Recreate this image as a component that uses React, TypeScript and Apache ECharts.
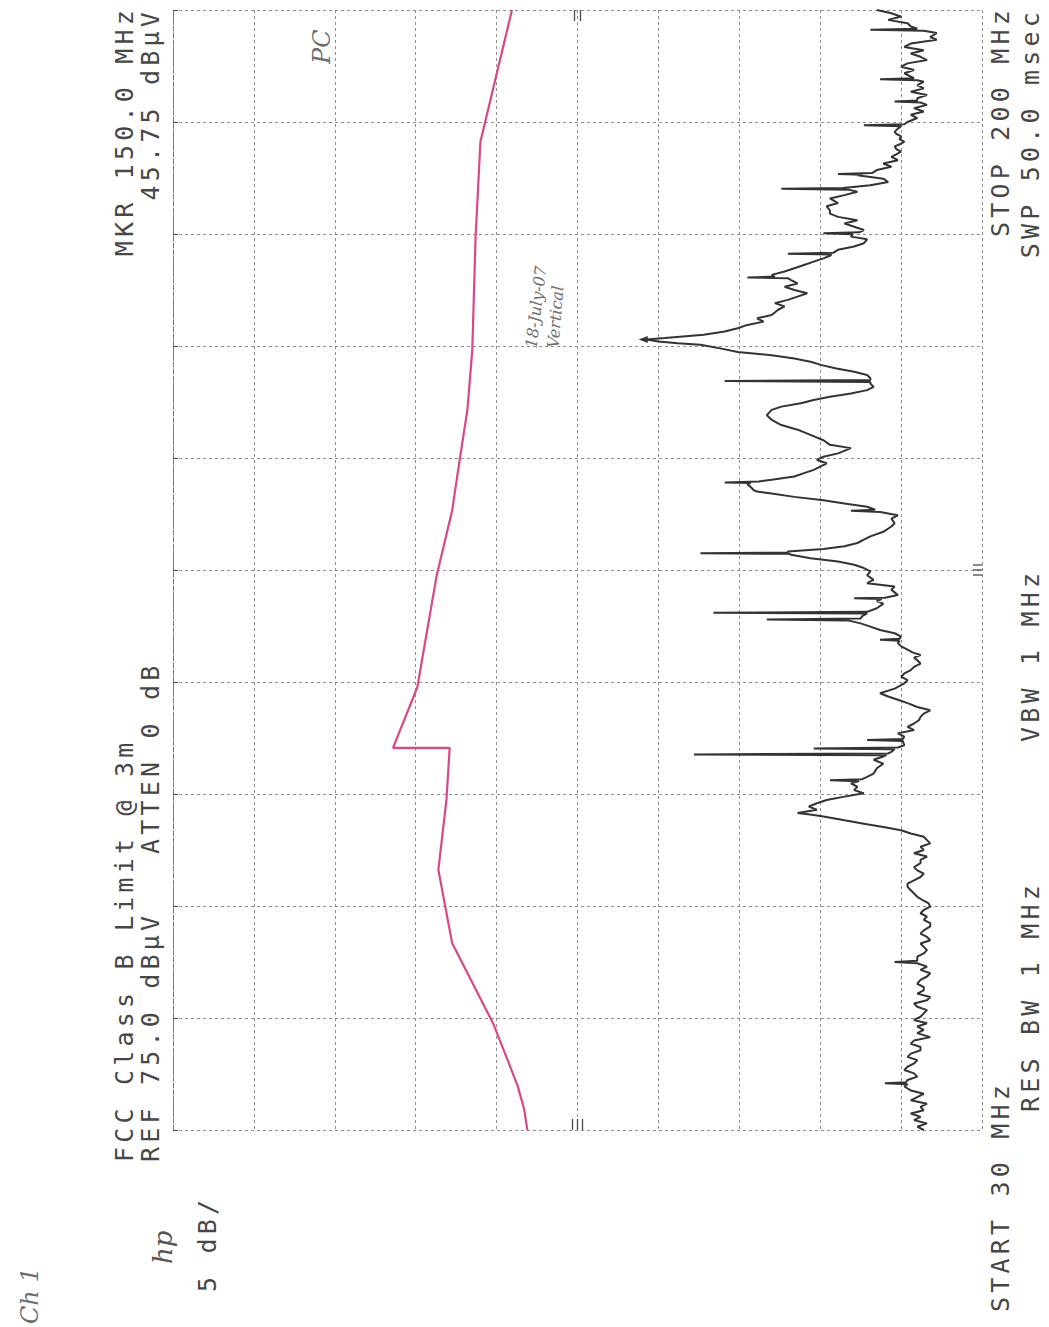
import React, { useEffect, useRef } from "react";
import * as echarts from "echarts";

// Sweep settings of the analyzer
const START_MHZ = 30;
const STOP_MHZ = 200;
const REF_DBUV = 75;
const DB_PER_DIV = 5;
const DIVISIONS = 10;

// FCC Class B limit (with antenna/cable correction) — frequency, level
const limitMHz = [30, 33.2, 36.7, 40.5, 43.6, 46.1, 58.4, 69.5, 80.1, 88, 88, 97.2, 114.2, 124, 131.4, 139.4, 148.5, 165.5, 180, 200];
const limitDbuv = [53.1, 53.3, 53.7, 54.3, 54.8, 55.2, 57.75, 58.6, 58.1, 57.9, 61.4, 59.9, 58.7, 57.75, 57.3, 56.8, 56.5, 56.3, 56.0, 54.05];

// Measured sweep: [MHz, dBµV]
const trace: [number, number][] = [
  [30.0, 28.6], [30.5, 29.0], [31.0, 28.4], [31.5, 29.2], [32.0, 28.8], [32.5, 29.4], [33.0, 28.6], [33.5, 28.8],
  [34.0, 28.4], [34.5, 29.4], [35.0, 29.0], [35.5, 28.6], [36.0, 29.4], [36.6, 29.8], [36.95, 29.6], [37.1, 31.0],
  [37.25, 29.7], [37.6, 29.6], [38.1, 29.0], [38.6, 29.2], [39.1, 29.8], [39.6, 29.6], [40.1, 29.2], [40.6, 29.0],
  [41.1, 29.6], [41.6, 29.4], [42.1, 28.8], [42.6, 28.8], [43.1, 29.4], [43.6, 29.2], [44.1, 28.2], [44.7, 29.0],
  [45.2, 28.6], [45.7, 29.0], [46.2, 28.4], [46.7, 29.2], [47.2, 28.8], [47.7, 28.6], [48.2, 28.4], [48.7, 29.0],
  [49.2, 29.2], [49.7, 28.4], [50.2, 28.2], [50.7, 29.0], [51.2, 28.6], [51.7, 28.6], [52.2, 29.0], [52.8, 28.8],
  [53.3, 28.4], [53.8, 28.2], [54.3, 28.8], [54.8, 28.4], [55.3, 29.0], [55.5, 30.4], [55.7, 29.0], [56.3, 29.0],
  [56.8, 28.6], [57.3, 28.4], [57.8, 28.6], [58.3, 28.8], [58.8, 28.2], [59.3, 28.4], [59.8, 28.8], [60.3, 28.6],
  [60.9, 28.2], [61.4, 28.2], [61.9, 28.6], [62.4, 28.4], [62.9, 28.8], [63.4, 28.6], [63.9, 28.2], [64.4, 28.3],
  [64.8, 28.6], [65.4, 29.0], [65.9, 29.2], [66.4, 29.4], [66.9, 29.6], [67.4, 29.6], [67.9, 29.2], [68.4, 28.8],
  [68.9, 28.6], [69.4, 29.0], [69.9, 29.2], [70.5, 28.8], [71.0, 28.8], [71.5, 28.4], [72.0, 29.2], [72.5, 28.6],
  [73.0, 28.8], [73.5, 28.2], [74.0, 28.4], [74.5, 28.6], [75.0, 29.4], [75.5, 30.0], [76.0, 31.1], [76.5, 32.3],
  [77.0, 33.5], [77.6, 34.8], [77.8, 35.4], [78.1, 36.4], [78.6, 35.2], [79.1, 35.7], [79.6, 35.2], [80.1, 34.6],
  [80.6, 33.5], [81.1, 32.3], [81.6, 32.9], [82.1, 32.7], [82.6, 33.1], [82.95, 32.6], [83.1, 34.4], [83.25, 32.4],
  [83.6, 32.1], [84.1, 31.7], [84.9, 31.5], [85.6, 31.1], [86.2, 31.7], [86.7, 31.1], [86.9, 30.9], [87.0, 42.8],
  [87.15, 30.8], [87.4, 30.6], [87.8, 30.4], [87.9, 35.4], [88.05, 30.2], [88.4, 29.8], [89.05, 29.9], [89.2, 32.1],
  [89.35, 29.9], [89.7, 29.8], [90.2, 30.2], [90.7, 29.2], [91.2, 29.6], [91.7, 29.2], [92.2, 28.9], [92.7, 28.8],
  [93.2, 28.6], [93.7, 28.2], [94.2, 29.0], [94.8, 29.6], [95.3, 30.2], [95.8, 30.8], [96.3, 31.3], [97.0, 30.4],
  [97.8, 29.8], [98.3, 29.6], [98.8, 30.0], [99.3, 29.8], [99.8, 29.4], [100.3, 29.2], [100.8, 28.8], [101.3, 29.0],
  [101.7, 29.2], [102.1, 28.8], [102.5, 29.3], [102.9, 29.6], [103.4, 30.0], [103.9, 30.2], [104.25, 30.1], [104.4, 31.3],
  [104.55, 30.1], [104.9, 30.0], [105.4, 30.4], [105.9, 31.3], [106.4, 31.9], [106.9, 32.5], [107.35, 33.3], [107.5, 38.3],
  [107.65, 32.5], [108.0, 32.4], [108.4, 32.1], [108.5, 41.6], [108.65, 32.1], [109.2, 31.5], [109.9, 31.1], [110.3, 31.5],
  [110.6, 31.2], [110.7, 32.9], [110.8, 31.0], [111.2, 30.2], [111.6, 30.4], [112.0, 30.6], [112.5, 30.4], [113.0, 32.1],
  [113.5, 31.7], [114.2, 32.1], [114.8, 31.9], [115.3, 32.3], [115.8, 32.9], [116.3, 33.9], [116.8, 35.6], [117.3, 36.8],
  [117.45, 36.9], [117.55, 42.4], [117.65, 37.0], [117.8, 37.0], [118.2, 34.8], [118.6, 33.5], [119.1, 32.7], [119.6, 32.3],
  [120.1, 31.9], [120.8, 31.1], [121.6, 30.6], [122.1, 30.4], [122.8, 30.6], [123.3, 30.2], [123.8, 31.3], [124.0, 33.1],
  [124.15, 31.6], [124.6, 32.1], [125.1, 33.5], [125.6, 34.8], [126.1, 36.6], [126.6, 38.0], [126.9, 38.9], [127.1, 39.1],
  [127.6, 39.3], [128.0, 39.5], [128.2, 39.3], [128.3, 40.9], [128.45, 38.8], [128.7, 38.0], [129.2, 36.6], [129.7, 36.0],
  [130.2, 35.4], [130.7, 35.0], [131.2, 34.6], [131.7, 35.2], [132.2, 34.8], [132.7, 33.9], [133.5, 33.1], [134.0, 34.4],
  [134.7, 34.8], [135.5, 35.6], [136.3, 36.4], [137.0, 37.4], [137.8, 38.0], [138.5, 38.3], [139.3, 38.0], [139.8, 37.4],
  [140.3, 36.2], [140.8, 35.4], [141.3, 34.4], [141.8, 33.1], [142.3, 32.1], [142.8, 31.7], [143.3, 31.9], [143.55, 31.9],
  [143.7, 40.9], [143.85, 31.9], [144.1, 31.9], [144.6, 32.1], [145.1, 32.9], [145.6, 34.0], [146.1, 34.9], [146.6, 35.6],
  [147.1, 36.6], [147.6, 38.0], [148.1, 40.1], [148.6, 41.1], [149.2, 42.4], [149.4, 43.8], [149.7, 45.0], [150.0, 45.75],
  [150.2, 44.6], [150.7, 42.2], [151.2, 40.9], [151.7, 40.1], [152.2, 39.5], [152.7, 38.5], [153.2, 38.9], [153.7, 38.0],
  [154.5, 37.6], [155.0, 37.2], [155.5, 37.8], [156.0, 37.0], [156.5, 36.4], [157.0, 35.8], [157.5, 36.6], [158.0, 37.2],
  [158.5, 36.4], [159.0, 36.8], [159.3, 37.0], [159.4, 39.5], [159.55, 37.8], [159.8, 38.0], [160.3, 37.2], [160.8, 36.6],
  [161.3, 36.0], [161.8, 35.4], [162.3, 34.8], [162.7, 34.4], [162.9, 34.3], [163.0, 37.0], [163.15, 34.2], [163.6, 33.9],
  [164.1, 32.9], [164.6, 32.3], [165.2, 32.1], [165.6, 33.1], [165.95, 33.0], [166.1, 34.8], [166.25, 32.6], [166.6, 32.3],
  [167.1, 32.9], [167.6, 33.5], [168.1, 32.7], [168.6, 33.9], [169.1, 34.4], [169.6, 34.4], [170.2, 34.6], [170.7, 33.9],
  [171.4, 34.4], [171.9, 33.5], [172.4, 32.7], [172.7, 33.2], [172.85, 37.4], [173.0, 33.6], [173.4, 31.9], [173.9, 30.8],
  [174.4, 31.1], [174.9, 32.7], [175.0, 32.4], [175.1, 33.9], [175.25, 31.8], [175.7, 31.5], [176.2, 30.6], [176.7, 31.1],
  [177.2, 30.2], [177.7, 30.6], [178.1, 30.3], [178.5, 30.0], [178.9, 30.3], [179.3, 30.4], [179.7, 30.0], [180.0, 29.8],
  [180.4, 30.1], [180.8, 30.0], [181.2, 30.3], [181.5, 30.4], [182.0, 30.2], [182.35, 30.0], [182.5, 32.3], [182.65, 29.8],
  [183.0, 29.6], [183.6, 29.0], [184.1, 29.4], [184.6, 28.6], [185.1, 29.2], [185.6, 28.4], [185.95, 28.8], [186.1, 30.4],
  [186.25, 29.0], [186.6, 29.0], [187.1, 28.4], [187.6, 29.4], [188.1, 28.6], [188.6, 29.0], [189.1, 28.6], [189.35, 29.0],
  [189.5, 31.3], [189.65, 29.2], [189.9, 29.4], [190.4, 29.8], [190.9, 29.2], [191.4, 30.0], [191.9, 29.6], [192.4, 28.4],
  [192.9, 28.8], [193.4, 29.4], [193.9, 28.6], [194.4, 29.8], [194.9, 29.4], [195.5, 27.8], [195.9, 28.2], [196.5, 27.8],
  [196.85, 28.6], [197.0, 31.9], [197.15, 29.0], [197.5, 29.4], [198.0, 29.6], [198.5, 30.8], [199.0, 30.0], [199.5, 30.6],
  [200.0, 31.5],
];

// Marker readout
const markerMHz = 150;
const markerDbuv = 45.75;

// Annotation lines printed around the graticule
const headerLine1 = "FCC Class B Limit @ 3m";
const headerLine2 = "REF 75.0 dBµV   ATTEN 0 dB";
const markerLine1 = "MKR 150.0 MHz";
const markerLine2 = "45.75 dBµV";
const scaleLabel = "5 dB/";
const startLabel = "START 30 MHz";
const rbwLabel = "RES BW 1 MHz";
const vbwLabel = "VBW 1 MHz";
const stopLabel = "STOP 200 MHz";
const sweepLabel = "SWP 50.0 msec";

const MONO = "'DejaVu Sans Mono', 'Liberation Mono', monospace";
const HAND = "'DejaVu Serif', 'Liberation Serif', serif";
const INK = "#474747";
const UP = Math.PI / 2;

function label(text: string, x: number, y: number, align: "left" | "right", size = 25) {
  return {
    type: "text",
    x,
    y,
    rotation: UP,
    silent: true,
    style: { text, fill: INK, fontFamily: MONO, fontSize: size, align, verticalAlign: "middle" },
  };
}

function hand(text: string, x: number, y: number, rot: number, size: number) {
  return {
    type: "text",
    x,
    y,
    rotation: rot,
    silent: true,
    style: { text, fill: "#6e6e6e", fontFamily: HAND, fontStyle: "italic", fontSize: size, align: "left", verticalAlign: "middle" },
  };
}

export default function App() {
  const ref = useRef<HTMLDivElement>(null);

  useEffect(() => {
    if (!ref.current) return;
    const chart = echarts.init(ref.current, null, { renderer: "svg" });
    const bottom = REF_DBUV - DB_PER_DIV * DIVISIONS;
    const centerDb = (REF_DBUV + bottom) / 2;
    const centerMHz = (START_MHZ + STOP_MHZ) / 2;
    const gridLine = { show: true, lineStyle: { color: "#8e8e8e", width: 1, type: [3, 3] } };

    chart.setOption({
      animation: false,
      backgroundColor: "#ffffff",
      grid: { left: 173, top: 10, width: 809, height: 1120, containLabel: false },
      xAxis: {
        type: "value",
        min: bottom,
        max: REF_DBUV,
        interval: DB_PER_DIV,
        inverse: true,
        axisLabel: { show: false },
        axisTick: { show: false },
        axisLine: { show: false },
        splitLine: gridLine,
      },
      yAxis: [
        { type: "value", min: START_MHZ, max: STOP_MHZ, show: false },
        {
          type: "value",
          min: 0,
          max: DIVISIONS,
          interval: 1,
          position: "left",
          axisLabel: { show: false },
          axisTick: { show: true, inside: true, length: 5, lineStyle: { color: "#555", width: 1.2 } },
          axisLine: { show: true, lineStyle: { color: "#7a7a7a", width: 1, type: [5, 2] } },
          splitLine: gridLine,
        },
      ],
      series: [
        {
          type: "line",
          yAxisIndex: 0,
          data: limitMHz.map((f, i) => [limitDbuv[i], f]),
          showSymbol: false,
          silent: true,
          lineStyle: { color: "#d9478a", width: 2.2 },
          z: 3,
        },
        {
          type: "line",
          yAxisIndex: 0,
          data: trace.map(([f, a]) => [a, f]),
          showSymbol: false,
          silent: true,
          lineStyle: { color: "#333333", width: 2 },
          z: 4,
          markPoint: {
            silent: true,
            symbol: "triangle",
            symbolRotate: 90,
            symbolSize: [7, 9],
            symbolOffset: [-3, 0],
            itemStyle: { color: "#333333" },
            label: { show: false },
            data: [{ coord: [markerDbuv, markerMHz] }],
          },
        },
        {
          // centre-of-screen marks on the graticule edges
          type: "custom",
          yAxisIndex: 0,
          silent: true,
          z: 5,
          data: [
            [centerDb, START_MHZ, 0],
            [centerDb, STOP_MHZ, 1],
            [bottom, centerMHz, 2],
          ],
          renderItem: (_p: any, api: any) => {
            const pt = api.coord([api.value(0), api.value(1)]);
            const kind = api.value(2);
            const st = { stroke: "#4a4a4a", lineWidth: 1.3 };
            const kids: any[] = [];
            const offs = kind === 1 ? [-3, 3] : [-5, 0, 5];
            offs.forEach((o) => {
              if (kind === 2) {
                kids.push({ type: "line", shape: { x1: pt[0] - 9, y1: pt[1] + o, x2: pt[0], y2: pt[1] + o }, style: st });
              } else {
                const dir = kind === 0 ? -1 : 1;
                kids.push({ type: "line", shape: { x1: pt[0] + o, y1: pt[1], x2: pt[0] + o, y2: pt[1] + dir * 11 }, style: st });
              }
            });
            return { type: "group", children: kids };
          },
        },
      ],
      graphic: [
        label(headerLine1, 124, 1162, "left"),
        label(headerLine2, 150, 1162, "left"),
        label(markerLine1, 124, 6, "right"),
        label(markerLine2, 150, 8, "right"),
        label(scaleLabel, 207, 1292, "left"),
        label(startLabel, 1000, 1312, "left"),
        label(rbwLabel, 1030, 1112, "left"),
        label(vbwLabel, 1030, 742, "left"),
        label(stopLabel, 1000, 6, "right"),
        label(sweepLabel, 1030, 8, "right"),
        {
          type: "text",
          x: 163,
          y: 1264,
          rotation: UP,
          silent: true,
          style: { text: "hp", fill: "#555", fontFamily: HAND, fontStyle: "italic", fontSize: 26, align: "left", verticalAlign: "middle" },
        },
        hand("18-July-07", 531, 348, UP - 0.12, 16),
        hand("Vertical", 553, 348, UP - 0.08, 16),
        hand("Ch 1", 30, 1324, UP, 24),
        hand("PC", 322, 64, UP, 24),
      ],
    });

    return () => chart.dispose();
  }, []);

  return (
    <>
      <style>{`#spectrum text[style*="Mono"], #spectrum text[font-family*="Mono"] { letter-spacing: 4.2px; }`}</style>
      <div
        id="spectrum"
        ref={ref}
        style={{ position: "absolute", left: 0, top: 0, width: 1049, height: 1327, background: "#fff" }}
      />
    </>
  );
}
